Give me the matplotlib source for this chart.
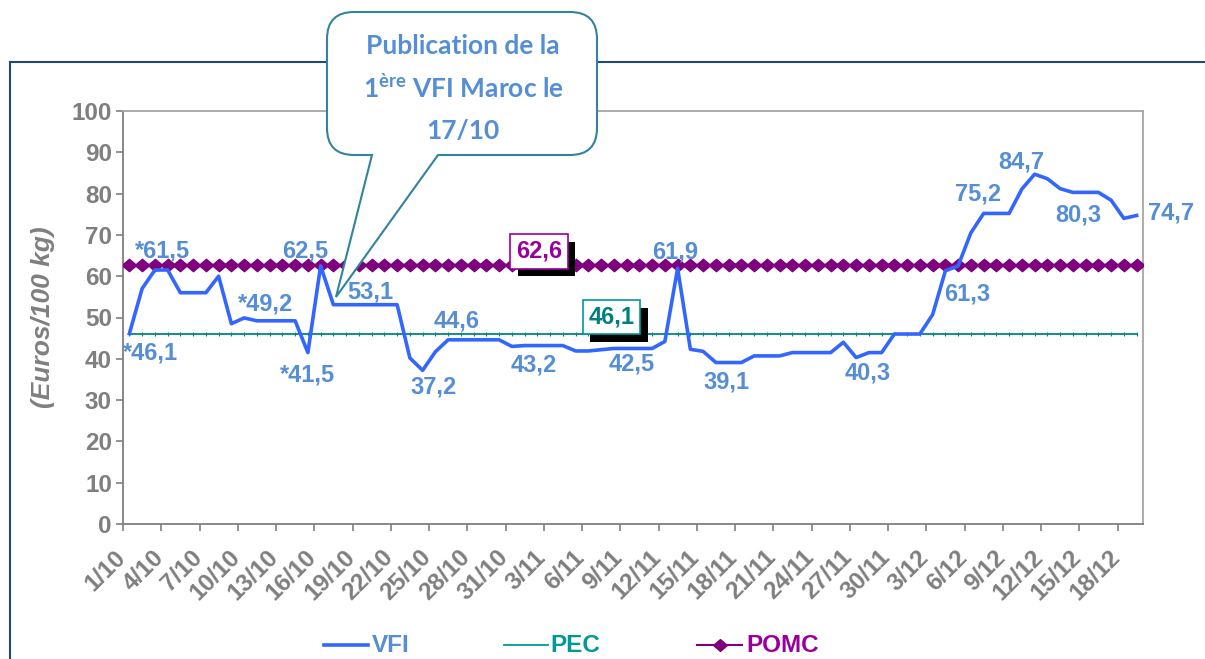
import numpy as np
import matplotlib
matplotlib.use("Agg")
import matplotlib.pyplot as plt
from matplotlib.path import Path
from matplotlib.patches import PathPatch
from matplotlib.lines import Line2D
import matplotlib.patheffects as pe
import matplotlib.transforms as mtransforms

# ---------------- data ----------------
tick_labels = ["1/10", "4/10", "7/10", "10/10", "13/10", "16/10", "19/10", "22/10", "25/10",
               "28/10", "31/10", "3/11", "6/11", "9/11", "12/11", "15/11", "18/11", "21/11",
               "24/11", "27/11", "30/11", "3/12", "6/12", "9/12", "12/12", "15/12", "18/12"]

vfi = [46.1, 57.0, 61.5, 61.5, 56.0, 56.0, 56.0, 60.0, 48.5, 49.9,
       49.2, 49.2, 49.2, 49.2, 41.5, 62.5, 53.1, 53.1, 53.1, 53.1,
       53.1, 53.1, 40.2, 37.2, 41.7, 44.6, 44.6, 44.6, 44.6, 44.6,
       43.0, 43.2, 43.2, 43.2, 43.2, 41.9, 41.9, 42.2, 42.5, 42.5,
       42.5, 42.5, 44.2, 61.9, 42.3, 41.8, 39.1, 39.1, 39.1, 40.7,
       40.7, 40.7, 41.5, 41.5, 41.5, 41.5, 44.0, 40.3, 41.5, 41.5,
       46.0, 46.0, 46.0, 50.7, 61.3, 62.5, 70.5, 75.2, 75.2, 75.2,
       81.1, 84.7, 83.6, 81.2, 80.3, 80.3, 80.3, 78.4, 74.0, 74.7]
pec_value = 46.1
pomc_value = 62.6

vfi_labels = ["*46,1", "*61,5", "62,5", "*49,2", "*41,5", "53,1", "37,2", "44,6", "43,2",
              "42,5", "61,9", "39,1", "40,3", "61,3", "75,2", "84,7", "80,3", "74,7"]

# ---------------- layout helpers ----------------
W, H = 1205, 659
n = len(vfi)
x = np.arange(n)
pec = [pec_value] * n
pomc = [pomc_value] * n

fig = plt.figure(figsize=(W / 100, H / 100), dpi=100)
ax = fig.add_axes([123 / W, 1 - 524 / H, (1143 - 123) / W, (524 - 111) / H])

GRAY = "#7F7F7F"
AR = "Liberation Sans"

diamond = Path([(-1, 0), (0, 0.85), (1, 0), (0, -0.85), (-1, 0)],
               [Path.MOVETO, Path.LINETO, Path.LINETO, Path.LINETO, Path.CLOSEPOLY])

ax.plot(x, pec, color="#00877F", lw=1.3, marker="|", ms=3, mew=0.8, zorder=2)
ax.plot(x, pomc, color="#7F007F", lw=1.5, marker=diamond, ms=10.5, zorder=3)
ax.plot(x, vfi, color="#3366FF", lw=2.6, zorder=4, solid_joinstyle="round")

ax.set_xlim(-0.5, n - 0.5)
ax.set_ylim(0, 100)

# y axis
ax.set_yticks(np.arange(0, 101, 10))
ax.set_yticklabels([str(v) for v in range(0, 101, 10)], fontsize=17.5,
                   fontweight="bold", color=GRAY, family=AR)
ax.tick_params(axis="y", direction="out", length=5, width=1.2, color=GRAY, pad=3)

# x axis: ticks between categories, labels every 3 categories
ax.set_xticks(np.arange(-0.5, n - 1, 3))
ax.set_xticklabels([])
ax.tick_params(axis="x", which="major", direction="out", length=5, width=1.2, color=GRAY)
lab_trans = mtransforms.blended_transform_factory(ax.transData, ax.transAxes) + \
    mtransforms.ScaledTranslation(-7.5 / 100, -30 / 100, fig.dpi_scale_trans)
for k, lab in enumerate(tick_labels):
    ax.text(3 * k, 0, lab, transform=lab_trans, rotation=45, rotation_mode="anchor",
            ha="right", va="center", fontsize=17.5, fontweight="bold", color=GRAY,
            family=AR, clip_on=False)

for s in ax.spines.values():
    s.set_color(GRAY)
    s.set_linewidth(1.3)
ax.spines["top"].set_color("#A6A6A6")
ax.spines["right"].set_color("#A6A6A6")

ax.set_ylabel("(Euros/100 kg)", fontsize=19, fontweight="bold", style="italic",
              color=GRAY, family=AR, labelpad=12)

# data labels of VFI (positions in data coordinates)
lab_pos = [(1.66, 41.3), (2.56, 66.1), (13.77, 66.0), (10.68, 53.3), (13.97, 36.1),
           (18.91, 56.2), (23.85, 33.2), (25.66, 49.2), (31.74, 38.5), (39.38, 38.7),
           (42.83, 65.9), (46.87, 34.4), (57.9, 36.6), (65.74, 55.7), (66.56, 79.9),
           (69.93, 87.7), (74.4, 74.8), (81.66, 75.4)]
for t, (lx, ly) in zip(vfi_labels, lab_pos):
    ax.text(lx, ly, t, ha="center", va="center", fontsize=17, fontweight="bold",
            color="#558ED5", family=AR, zorder=6, clip_on=False)

# boxed labels of POMC and PEC
shadow = [pe.withSimplePatchShadow(offset=(5.5, -5.5), shadow_rgbFace="black", alpha=1.0)]
t1 = ax.text(32.13, 66.0, "62,6", ha="center", va="center", fontsize=17,
             fontweight="bold", color="#990099", family=AR, zorder=7,
             bbox=dict(boxstyle="square,pad=0.24", fc="white", ec="#990099", lw=1.2))
t1.get_bbox_patch().set_path_effects(shadow)
t2 = ax.text(37.81, 50.1, "46,1", ha="center", va="center", fontsize=17,
             fontweight="bold", color="#007F7F", family=AR, zorder=7,
             bbox=dict(boxstyle="square,pad=0.24", fc="white", ec="#009999", lw=1.2))
t2.get_bbox_patch().set_path_effects(shadow)

# ---------------- frame lines ----------------
NAVY = "#1F497D"
fig.add_artist(Line2D([10 / W, 1.0], [1 - 62 / H, 1 - 62 / H], color=NAVY, lw=1.5,
                      transform=fig.transFigure))
fig.add_artist(Line2D([10 / W, 10 / W], [1 - 62 / H, 0], color=NAVY, lw=1.5,
                      transform=fig.transFigure))

# ---------------- callout ----------------
L, R, T, B, r = 327, 597, 12, 155, 27
pts_px = [(L + r, T), (R - r, T), (R, T), (R, T + r), (R, B - r), (R, B), (R - r, B),
          (438, B), (336, 297), (372, B), (L + r, B), (L, B), (L, B - r), (L, T + r),
          (L, T), (L + r, T), (L + r, T)]
codes = [Path.MOVETO, Path.LINETO, Path.CURVE3, Path.CURVE3, Path.LINETO, Path.CURVE3,
         Path.CURVE3, Path.LINETO, Path.LINETO, Path.LINETO, Path.LINETO, Path.CURVE3,
         Path.CURVE3, Path.LINETO, Path.CURVE3, Path.CURVE3, Path.CLOSEPOLY]
verts = [(px / 100, (H - py) / 100) for px, py in pts_px]
callout = PathPatch(Path(verts, codes), fc="white", ec="#31849B", lw=1.5,
                    transform=fig.dpi_scale_trans, zorder=10)
fig.add_artist(callout)

plt.rcParams["mathtext.fontset"] = "custom"
plt.rcParams["mathtext.bf"] = "Lato:bold"
plt.rcParams["mathtext.rm"] = "Lato:bold"
CAL = "#558ED5"
cx = 463 / W
FS_C = 19
fig.text(cx, 1 - 46 / H, "Publication de la", ha="center", va="center", fontsize=FS_C,
         fontweight="bold", color=CAL, family="Lato", zorder=11)
fig.text(cx, 1 - 88 / H, r"1$^{\mathbf{ère}}$ VFI Maroc le", ha="center", va="center",
         fontsize=FS_C, fontweight="bold", color=CAL, family="Lato", zorder=11)
fig.text(cx, 1 - 131 / H, "17/10", ha="center", va="center", fontsize=FS_C,
         fontweight="bold", color=CAL, family="Lato", zorder=11)

# ---------------- legend ----------------
ly = 1 - 645 / H
fig.add_artist(Line2D([324 / W, 368 / W], [ly, ly], color="#3366FF", lw=2.6,
                      transform=fig.transFigure))
fig.text(372 / W, ly, "VFI", ha="left", va="center", fontsize=17.5, fontweight="bold",
         color="#558ED5", family=AR)
fig.add_artist(Line2D([504 / W, 548 / W], [ly, ly], color="#009999", lw=1.3,
                      transform=fig.transFigure))
fig.text(550 / W, ly, "PEC", ha="left", va="center", fontsize=17.5, fontweight="bold",
         color="#009999", family=AR)
fig.add_artist(Line2D([697 / W, 742 / W], [ly, ly], color="#7F007F", lw=1.5,
                      transform=fig.transFigure))
fig.add_artist(Line2D([720 / W], [ly], color="#7F007F", marker=diamond, ms=10, lw=0,
                      transform=fig.transFigure))
fig.text(746 / W, ly, "POMC", ha="left", va="center", fontsize=17.5, fontweight="bold",
         color="#990099", family=AR)

fig.savefig("out.png", dpi=100)
